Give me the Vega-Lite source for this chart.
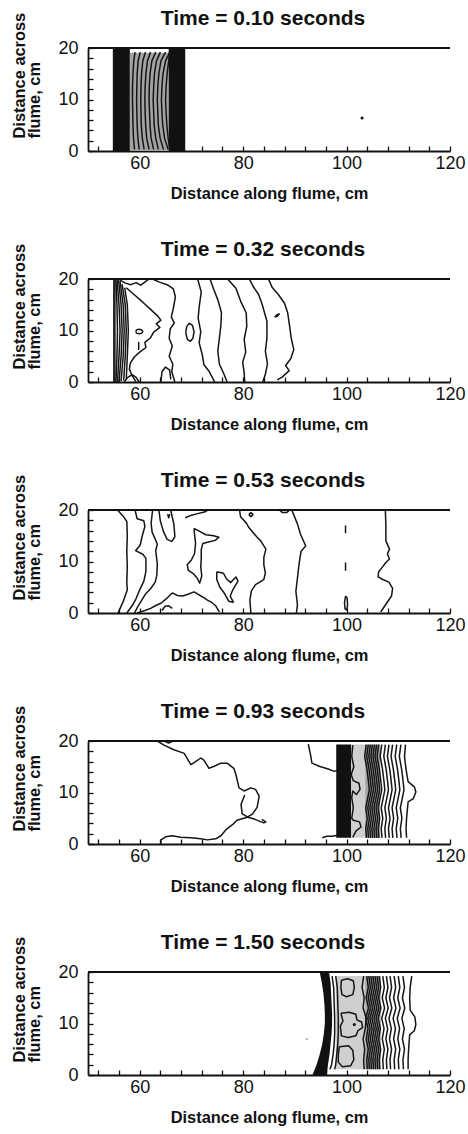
{
  "$schema": "https://vega.github.io/schema/vega-lite/v6.json",
  "padding": {"left": 10, "top": 8, "right": 0, "bottom": 0},
  "config": {
    "view": {"stroke": null},
    "font": "Liberation Sans",
    "title": {"font": "Liberation Sans", "fontSize": 21, "fontWeight": "bold", "color": "#111", "offset": -17, "dx": -6},
    "axis": {"grid": false, "domainColor": "#111", "domainWidth": 1.8, "tickColor": "#111", "tickWidth": 1.3, "tickSize": -5,
      "labelFont": "Liberation Sans", "labelFontSize": 18, "labelColor": "#111",
      "titleFont": "Liberation Sans", "titleFontSize": 16.4, "titleFontWeight": "bold", "titleColor": "#111"},
    "axisX": {"labelPadding": 8, "titlePadding": 13},
    "axisY": {"labelPadding": 15}
  },
  "spacing": 37,
  "datasets": {
    "frame": [{"x": 50, "xe": 120, "y": 20}],
    "fills": [
      {"p": 1, "kind": "band", "x": 54.8, "xe": 58.1, "y": 0, "ye": 20},
      {"p": 1, "kind": "shade", "x": 58.1, "xe": 65.6, "y": 0, "ye": 19.1},
      {"p": 1, "kind": "band", "x": 65.6, "xe": 68.8, "y": 0, "ye": 20},
      {"p": 4, "kind": "band", "x": 98.0, "xe": 100.9, "y": 1.2, "ye": 19.3},
      {"p": 4, "kind": "stipple", "x": 100.9, "xe": 103.6, "y": 1.2, "ye": 19.3},
      {"p": 4, "kind": "shade", "x": 103.6, "xe": 106.5, "y": 1.2, "ye": 19.3},
      {"p": 5, "kind": "stipple", "x": 97.9, "xe": 103.6, "y": 1.1, "ye": 19.2},
      {"p": 5, "kind": "shade", "x": 103.6, "xe": 106.6, "y": 1.1, "ye": 19.2}
    ],
    "fronts": [
      {"p": 5, "y": 20, "x": 94.8, "xe": 96.6},
      {"p": 5, "y": 18, "x": 95.2, "xe": 96.9},
      {"p": 5, "y": 16, "x": 95.5, "xe": 97.0},
      {"p": 5, "y": 14, "x": 95.7, "xe": 97.1},
      {"p": 5, "y": 12, "x": 95.8, "xe": 97.2},
      {"p": 5, "y": 10, "x": 95.8, "xe": 97.2},
      {"p": 5, "y": 8, "x": 95.6, "xe": 97.1},
      {"p": 5, "y": 6, "x": 95.3, "xe": 96.9},
      {"p": 5, "y": 4, "x": 94.8, "xe": 96.7},
      {"p": 5, "y": 2, "x": 94.2, "xe": 96.4},
      {"p": 5, "y": 0, "x": 93.4, "xe": 96.2}
    ],
    "dots": [
      {"p": 1, "kind": "dot", "x": 103.0, "y": 6.4},
      {"p": 5, "kind": "speck", "x": 92.3, "y": 7.0},
      {"p": 5, "kind": "dot", "x": 101.5, "y": 9.8}
    ],
    "contours": [
      {"p": 1, "id": "a1", "xs": [59.1, 58.85, 58.7, 58.6, 58.6, 58.65, 58.7, 58.8, 59.0], "ys": [19.2, 17.5, 15, 12.5, 10, 7.5, 5, 2.5, 0.3]},
      {"p": 1, "id": "a2", "xs": [60.1, 59.7, 59.5, 59.45, 59.4, 59.45, 59.5, 59.65, 59.9], "ys": [19.2, 17.5, 15, 12.5, 10, 7.5, 5, 2.5, 0.3]},
      {"p": 1, "id": "a3", "xs": [61.1, 60.6, 60.35, 60.25, 60.2, 60.25, 60.3, 60.5, 60.85], "ys": [19.2, 17.5, 15, 12.5, 10, 7.5, 5, 2.5, 0.3]},
      {"p": 1, "id": "a4", "xs": [62.1, 61.5, 61.2, 61.05, 61.0, 61.05, 61.15, 61.35, 61.8], "ys": [19.2, 17.5, 15, 12.5, 10, 7.5, 5, 2.5, 0.3]},
      {"p": 1, "id": "a5", "xs": [63.1, 62.35, 62.0, 61.85, 61.8, 61.9, 62.0, 62.2, 62.7], "ys": [19.2, 17.5, 15, 12.5, 10, 7.5, 5, 2.5, 0.3]},
      {"p": 1, "id": "a6", "xs": [64.0, 63.25, 62.85, 62.7, 62.6, 62.7, 62.8, 63.1, 63.6], "ys": [19.2, 17.5, 15, 12.5, 10, 7.5, 5, 2.5, 0.3]},
      {"p": 1, "id": "a7", "xs": [65.0, 64.1, 63.7, 63.5, 63.4, 63.5, 63.6, 63.95, 64.6], "ys": [19.2, 17.5, 15, 12.5, 10, 7.5, 5, 2.5, 0.3]},
      {"p": 1, "id": "a8", "xs": [65.8, 65.0, 64.5, 64.3, 64.2, 64.3, 64.45, 64.8, 65.5], "ys": [19.2, 17.5, 15, 12.5, 10, 7.5, 5, 2.5, 0.3]},
      {"p": 1, "id": "a9", "xs": [65.8, 65.6, 65.3, 65.1, 65.0, 65.1, 65.25, 65.5, 65.8], "ys": [19.2, 17.5, 15, 12.5, 10, 7.5, 5, 2.5, 0.3]},

      {"p": 2, "id": "c1", "xs": [55.0, 55.0], "ys": [0, 20]},
      {"p": 2, "id": "c1b", "xs": [55.2, 55.2], "ys": [0, 20]},
      {"p": 2, "id": "c2", "xs": [55.4, 55.6, 55.7, 55.6, 55.4], "ys": [0, 5, 10, 15, 20]},
      {"p": 2, "id": "c3", "xs": [55.7, 56.0, 56.2, 56.0, 55.6], "ys": [0, 5, 10, 15, 20]},
      {"p": 2, "id": "c4", "xs": [56.0, 56.4, 56.6, 56.4, 55.9], "ys": [0, 5, 10, 15, 20]},
      {"p": 2, "id": "c5", "xs": [56.4, 56.8, 57.0, 56.8, 56.2], "ys": [0.2, 5, 10, 15, 19.6]},
      {"p": 2, "id": "c6", "xs": [56.9, 57.2, 57.4, 57.2, 56.6], "ys": [0.3, 5, 10, 15, 19.0]},
      {"p": 2, "id": "c7", "xs": [57.4, 57.6, 57.8, 57.6, 57.1], "ys": [0.5, 5, 10, 15, 18.3]},
      {"p": 2, "id": "c8", "xs": [57.0, 57.8, 58.6, 59.3, 59.9], "ys": [0, 1.0, 1.4, 0.9, 0]},
      {"p": 2, "id": "l1", "xs": [56.2, 57.2, 58.3, 59.3, 60.2, 61.0, 61.8], "ys": [19.8, 19.2, 18.9, 19.3, 18.8, 19.4, 20]},
      {"p": 2, "id": "l2", "xs": [57.4, 58.9, 60.6, 62.2, 63.5, 64.1, 63.2, 63.9, 62.7, 62.1, 61.0, 61.2, 60.0, 59.0, 58.2, 58.0, 58.5, 59.3], "ys": [18.3, 17.0, 15.5, 14.0, 12.8, 12.0, 11.3, 10.6, 9.7, 8.6, 7.7, 6.7, 5.8, 4.9, 3.7, 2.5, 1.3, 0]},
      {"p": 2, "id": "l3", "xs": [62.5, 63.8, 65.3, 66.5, 66.9, 66.5, 66.1, 66.7, 65.9, 65.7, 66.3, 65.7, 66.4, 66.2, 66.8], "ys": [20, 19.4, 18.9, 18.1, 16.5, 14.3, 12.6, 11.5, 10.3, 8.5, 7.0, 5.0, 3.5, 2.0, 0]},
      {"p": 2, "id": "l4", "xs": [64.1, 64.3, 65.0, 65.8, 66.0], "ys": [0, 2.0, 2.9, 2.3, 0.5]},
      {"p": 2, "id": "e1", "xs": [59.2, 59.45, 59.9, 60.35, 60.6, 60.35, 59.9, 59.45, 59.2], "ys": [9.8, 10.15, 10.25, 10.15, 9.8, 9.45, 9.35, 9.45, 9.8]},
      {"p": 2, "id": "i1", "xs": [59.8, 59.8], "ys": [7.8, 6.2]},
      {"p": 2, "id": "e2", "xs": [68.9, 69.1, 69.6, 70.2, 70.5, 70.3, 69.8, 69.2, 68.9], "ys": [9.6, 10.8, 11.4, 11.0, 9.8, 8.5, 7.9, 8.3, 9.6]},
      {"p": 2, "id": "r1", "xs": [71.2, 71.9, 71.5, 71.3, 71.8, 71.5, 72.1, 72.4, 73.4, 74.5], "ys": [20, 17.5, 14.6, 12.4, 9.8, 7.6, 5.3, 3.4, 2.1, 0]},
      {"p": 2, "id": "r2", "xs": [73.6, 74.3, 75.1, 75.8, 75.7, 75.4, 75.1, 75.4, 76.3, 76.9], "ys": [20, 18, 16, 13.5, 11, 8.5, 6, 3.5, 1.5, 0]},
      {"p": 2, "id": "r3", "xs": [77.0, 78.6, 79.6, 80.6, 80.7, 80.2, 80.5, 79.9, 80.2, 80.3], "ys": [20, 18.2, 15.5, 13.4, 10.8, 8.3, 5.8, 3.8, 1.8, 0]},
      {"p": 2, "id": "r4", "xs": [81.2, 81.9, 83.0, 83.7, 84.6, 84.6, 84.3, 84.7, 84.3, 83.8], "ys": [20, 18.6, 17, 15, 11.8, 8.5, 6, 3.5, 1.5, 0]},
      {"p": 2, "id": "r5", "xs": [84.9, 85.6, 86.8, 88.0, 88.6, 88.9, 89.3, 89.8, 89.2, 88.2, 88.9, 87.6, 86.6], "ys": [20, 18.4, 17, 15.3, 13.5, 11.5, 8.5, 6.3, 4.5, 3.2, 2.2, 1.0, 0.4]},
      {"p": 2, "id": "e3", "xs": [86.1, 86.6, 87.0, 86.5, 86.1], "ys": [12.6, 13.1, 13.2, 12.7, 12.6]},

      {"p": 3, "id": "a", "xs": [55.7, 56.8, 57.5, 57.6, 57.5, 57.6, 57.5, 57.6, 56.8, 55.8], "ys": [20, 18.8, 17.8, 15, 12, 9, 6, 4.5, 2.2, 0]},
      {"p": 3, "id": "b", "xs": [59.1, 59.5, 60.8, 61.0, 60.5, 60.1, 59.2, 60.6, 61.2, 61.2, 60.8, 60.0, 59.3, 58.6, 57.5], "ys": [20, 18.3, 17.9, 16.8, 15, 13.2, 12.1, 11.4, 10.6, 8.1, 6.2, 4.5, 2.8, 1.5, 0]},
      {"p": 3, "id": "c", "xs": [62.5, 62.2, 62.4, 63.4, 63.1, 63.4, 63.3, 63.0, 62.1, 61.2, 60.4, 59.6, 59.0], "ys": [20, 17.4, 15.7, 13.4, 12.1, 9.5, 7.3, 6, 4.7, 3.8, 2.5, 1.2, 0]},
      {"p": 3, "id": "u", "xs": [63.7, 64.0, 64.6, 65.3, 66.2, 66.8, 66.6, 66.3, 66.0], "ys": [20, 17.8, 15.8, 14.3, 13.9, 14.8, 17.3, 18.6, 20]},
      {"p": 3, "id": "v", "xs": [65.4, 65.6, 65.8], "ys": [19.2, 18.5, 19.2]},
      {"p": 3, "id": "t", "xs": [68.8, 70.0, 71.2, 72.5, 73.2], "ys": [18.5, 19.0, 19.3, 19.6, 20]},
      {"p": 3, "id": "bot", "xs": [59.5, 61.0, 62.1, 63.2, 64.1, 65.3, 66.3, 67.3, 68.3, 69.2, 70.5, 71.5, 72.4, 73.1, 74.0, 74.7, 75.4], "ys": [0, 0.5, 0.9, 1.5, 1.9, 2.9, 3.9, 3.4, 3.3, 3.6, 4.1, 3.5, 3.0, 2.5, 2.0, 1.4, 0.2]},
      {"p": 3, "id": "sa", "xs": [64.3, 64.9, 65.6, 66.3], "ys": [0.5, 1.3, 1.4, 0.9]},
      {"p": 3, "id": "f", "xs": [70.5, 71.5, 72.8, 74.3, 75.3, 74.6, 73.3, 72.2, 71.9, 71.9, 71.8, 72.0, 71.6, 71.1, 70.3, 69.4, 69.2, 70.0, 70.6, 70.8, 70.6, 70.5], "ys": [16.4, 15.9, 15.2, 15.0, 14.7, 14.1, 13.8, 13.5, 12.3, 10.5, 9.0, 7.2, 5.8, 6.8, 7.7, 8.3, 9.4, 10.3, 11.5, 13.5, 15.3, 16.4]},
      {"p": 3, "id": "h", "xs": [74.9, 76.2, 76.8, 77.6, 78.6, 79.0, 78.0, 77.5, 78.1, 77.2, 76.4, 75.5, 74.9, 74.9], "ys": [8.0, 7.7, 6.6, 5.9, 7.0, 6.2, 4.5, 3.3, 2.1, 2.3, 3.8, 5.0, 6.5, 8.0]},
      {"p": 3, "id": "g", "xs": [79.3, 79.5, 80.6, 81.1, 82.7, 83.4, 84.4, 84.0, 84.0, 84.3, 84.0, 82.4, 81.6, 81.3, 81.5], "ys": [20, 18.7, 17.5, 16.6, 14.7, 14.0, 12.4, 10.8, 9.4, 7.8, 6.5, 5.5, 4.3, 2.5, 0]},
      {"p": 3, "id": "o", "xs": [81.1, 81.5, 81.9, 81.5, 81.1], "ys": [19.1, 19.5, 19.1, 18.7, 19.1]},
      {"p": 3, "id": "hump", "xs": [87.0, 87.6, 88.4, 89.0], "ys": [20, 19.5, 19.5, 20]},
      {"p": 3, "id": "j", "xs": [89.4, 90.5, 91.1, 91.8, 92.1, 91.2, 90.8, 90.5, 90.2, 90.5, 90.3], "ys": [20, 17.3, 15.3, 13.7, 13.0, 12.0, 9.4, 6.8, 4.2, 1.6, 0]},
      {"p": 3, "id": "i1", "xs": [99.8, 99.8], "ys": [17, 15.5]},
      {"p": 3, "id": "i2", "xs": [99.8, 99.8], "ys": [9.8, 8.2]},
      {"p": 3, "id": "i3", "xs": [99.8, 100.1, 100.2, 100.0, 99.7, 99.6, 99.8], "ys": [3.3, 2.9, 1.5, 0.6, 0.8, 2.0, 3.3]},
      {"p": 3, "id": "k", "xs": [107.5, 107.6, 107.6, 108.3, 107.9, 108.3, 107.6, 107.0, 106.2, 106.1, 107.0, 108.2, 108.9, 108.7, 107.8, 106.6], "ys": [20, 17, 14, 12.4, 11.5, 10.5, 9.8, 9.0, 8.0, 7.0, 6.5, 6.0, 4.8, 3.3, 2.0, 0.2]},

      {"p": 4, "id": "w1", "xs": [63.4, 64.7, 66.6, 68.6, 69.9, 70.8, 71.8, 72.4, 73.4, 74.4, 75.7, 76.9, 78.2, 78.6, 79.2, 80.2, 81.5, 82.4, 83.1, 82.7, 81.8, 80.8, 79.8, 78.8, 78.0, 76.8, 75.7, 74.7, 73.1, 71.8, 69.9, 67.9, 66.3, 65.0, 64.1, 64.1], "ys": [20, 19.2, 18.3, 17.6, 15.4, 16.0, 16.7, 16.3, 14.7, 15.1, 15.7, 15.7, 14.7, 13.5, 10.9, 10.3, 10.9, 10.6, 9.3, 7.1, 5.8, 5.2, 4.9, 4.6, 3.8, 2.9, 1.6, 1.0, 0.8, 1.0, 1.2, 1.3, 1.6, 1.4, 0.8, 0]},
      {"p": 4, "id": "w2", "xs": [80.3, 79.6, 79.8, 80.9, 82.0, 83.0, 84.0, 84.4, 83.6], "ys": [9.5, 7.7, 5.9, 5.2, 4.9, 4.5, 4.1, 4.3, 4.8]},
      {"p": 4, "id": "w3", "xs": [64.8, 65.6, 66.4], "ys": [20, 19.6, 20]},
      {"p": 4, "id": "hk", "xs": [92.6, 93.0, 93.3, 94.7, 96.3, 97.6, 98.2], "ys": [19.4, 17.5, 15.7, 15.1, 14.6, 14.1, 14.3]},
      {"p": 4, "id": "bt", "xs": [95.3, 96.2, 97.2, 98.2], "ys": [1.2, 1.5, 1.5, 1.7]},
      {"p": 4, "id": "gb", "xs": [101.2, 101.0, 101.4, 100.9, 101.3, 102.4, 102.6, 101.9, 101.2, 101.0, 101.3, 101.0, 101.3, 102.5, 102.8, 101.8, 101.2], "ys": [19.2, 17, 15, 13.5, 12.3, 11.8, 10.6, 9.6, 10.3, 9, 7, 5, 4.6, 4.3, 3.3, 2.5, 1.3]},
      {"p": 4, "id": "d1", "xs": [103.8, 103.5, 103.95, 104.25, 104.4, 104.1, 103.7, 104.0, 103.7, 103.85], "ys": [19.3, 17, 14.5, 12, 10.5, 9, 7, 5, 3, 1.2]},
      {"p": 4, "id": "d2", "xs": [104.2, 103.9, 104.35, 104.65, 104.8, 104.5, 104.1, 104.4, 104.1, 104.25], "ys": [19.3, 17, 14.5, 12, 10.5, 9, 7, 5, 3, 1.2]},
      {"p": 4, "id": "d3", "xs": [104.6, 104.3, 104.75, 105.05, 105.2, 104.9, 104.5, 104.8, 104.5, 104.65], "ys": [19.3, 17, 14.5, 12, 10.5, 9, 7, 5, 3, 1.2]},
      {"p": 4, "id": "d4", "xs": [105.0, 104.7, 105.15, 105.45, 105.6, 105.3, 104.9, 105.2, 104.9, 105.05], "ys": [19.3, 17, 14.5, 12, 10.5, 9, 7, 5, 3, 1.2]},
      {"p": 4, "id": "d5", "xs": [105.4, 105.1, 105.55, 105.85, 106.0, 105.7, 105.3, 105.6, 105.3, 105.45], "ys": [19.3, 17, 14.5, 12, 10.5, 9, 7, 5, 3, 1.2]},
      {"p": 4, "id": "d6", "xs": [105.8, 105.5, 105.95, 106.25, 106.4, 106.1, 105.7, 106.0, 105.7, 105.85], "ys": [19.3, 17, 14.5, 12, 10.5, 9, 7, 5, 3, 1.2]},
      {"p": 4, "id": "d7", "xs": [106.2, 105.9, 106.35, 106.65, 106.8, 106.5, 106.1, 106.4, 106.1, 106.25], "ys": [19.3, 17, 14.5, 12, 10.5, 9, 7, 5, 3, 1.2]},
      {"p": 4, "id": "s1", "xs": [106.8, 106.5, 106.95, 107.25, 107.4, 107.1, 106.7, 107.0, 106.7, 106.85], "ys": [19.3, 17, 14.5, 12, 10.5, 9, 7, 5, 3, 1.2]},
      {"p": 4, "id": "s2", "xs": [107.5, 107.2, 107.65, 107.95, 108.1, 107.8, 107.4, 107.7, 107.4, 107.55], "ys": [19.3, 17, 14.5, 12, 10.5, 9, 7, 5, 3, 1.2]},
      {"p": 4, "id": "s3", "xs": [108.2, 107.9, 108.35, 108.65, 108.8, 108.5, 108.1, 108.4, 108.1, 108.25], "ys": [19.3, 17, 14.5, 12, 10.5, 9, 7, 5, 3, 1.2]},
      {"p": 4, "id": "s4", "xs": [108.9, 108.6, 109.05, 109.35, 109.5, 109.2, 108.8, 109.1, 108.8, 108.95], "ys": [19.3, 17, 14.5, 12, 10.5, 9, 7, 5, 3, 1.2]},
      {"p": 4, "id": "s5", "xs": [109.7, 109.4, 109.85, 110.15, 110.3, 110.0, 109.6, 109.9, 109.6, 109.75], "ys": [19.3, 17, 14.5, 12, 10.5, 9, 7, 5, 3, 1.2]},
      {"p": 4, "id": "s6", "xs": [110.5, 110.2, 110.65, 110.95, 111.1, 110.8, 110.4, 110.7, 110.4, 110.55], "ys": [19.3, 17, 14.5, 12, 10.5, 9, 7, 5, 3, 1.2]},
      {"p": 4, "id": "s7", "xs": [111.4, 111.2, 111.5, 111.9, 113.1, 113.4, 112.9, 111.9, 111.6, 111.5, 111.6], "ys": [19.3, 17, 14.5, 12.1, 11.1, 10.1, 8.8, 8.2, 5, 3, 1.2]},

      {"p": 5, "id": "n1", "xs": [97.2, 97.5, 97.6, 97.7, 97.7, 97.6, 97.4, 97.1, 96.8], "ys": [19.2, 17, 14, 11, 8, 6, 4, 2, 1.1]},
      {"p": 5, "id": "n2", "xs": [97.9, 98.2, 98.3, 98.4, 98.4, 98.3, 98.1, 97.9, 97.7], "ys": [19.2, 17, 14, 11, 8, 6, 4, 2, 1.1]},
      {"p": 5, "id": "b1", "xs": [99.0, 100.2, 101.3, 101.5, 101.2, 100.0, 99.1, 98.9, 99.0], "ys": [18.4, 18.7, 18.3, 17.0, 15.6, 15.2, 15.6, 17.0, 18.4]},
      {"p": 5, "id": "b2", "xs": [98.9, 100.5, 101.8, 102.0, 102.9, 103.1, 102.2, 101.8, 100.3, 99.0, 98.8, 99.3, 98.9], "ys": [12.0, 12.2, 11.8, 10.7, 10.3, 9.2, 8.6, 7.6, 7.3, 7.6, 9.5, 10.5, 12.0]},
      {"p": 5, "id": "b3", "xs": [98.6, 100.4, 101.2, 101.4, 100.8, 99.2, 98.4, 98.4, 98.6], "ys": [5.5, 5.7, 4.8, 3.0, 1.8, 1.6, 2.5, 4.0, 5.5]},
      {"p": 5, "id": "rb", "xs": [103.3, 103.0, 103.4, 103.2, 103.8, 103.6, 103.2, 103.5, 103.3, 103.4], "ys": [19.2, 17, 15, 13, 11, 9, 7, 5, 3, 1.1]},
      {"p": 5, "id": "d1", "xs": [103.9, 104.2, 103.8, 104.25, 103.7, 104.15, 103.8, 104.2, 103.9, 104.0], "ys": [19.2, 17, 15, 13, 11, 9, 7, 5, 3, 1.1]},
      {"p": 5, "id": "d2", "xs": [104.3, 104.6, 104.2, 104.65, 104.1, 104.55, 104.2, 104.6, 104.3, 104.4], "ys": [19.2, 17, 15, 13, 11, 9, 7, 5, 3, 1.1]},
      {"p": 5, "id": "d3", "xs": [104.7, 105.0, 104.6, 105.05, 104.5, 104.95, 104.6, 105.0, 104.7, 104.8], "ys": [19.2, 17, 15, 13, 11, 9, 7, 5, 3, 1.1]},
      {"p": 5, "id": "d4", "xs": [105.1, 105.4, 105.0, 105.45, 104.9, 105.35, 105.0, 105.4, 105.1, 105.2], "ys": [19.2, 17, 15, 13, 11, 9, 7, 5, 3, 1.1]},
      {"p": 5, "id": "d5", "xs": [105.5, 105.8, 105.4, 105.85, 105.3, 105.75, 105.4, 105.8, 105.5, 105.6], "ys": [19.2, 17, 15, 13, 11, 9, 7, 5, 3, 1.1]},
      {"p": 5, "id": "d6", "xs": [105.9, 106.2, 105.8, 106.25, 105.7, 106.15, 105.8, 106.2, 105.9, 106.0], "ys": [19.2, 17, 15, 13, 11, 9, 7, 5, 3, 1.1]},
      {"p": 5, "id": "d7", "xs": [106.3, 106.6, 106.2, 106.65, 106.1, 106.55, 106.2, 106.6, 106.3, 106.4], "ys": [19.2, 17, 15, 13, 11, 9, 7, 5, 3, 1.1]},
      {"p": 5, "id": "s1", "xs": [107.0, 107.3, 106.9, 107.35, 106.8, 107.25, 106.9, 107.3, 107.0, 107.1], "ys": [19.2, 17, 15, 13, 11, 9, 7, 5, 3, 1.1]},
      {"p": 5, "id": "s2", "xs": [107.7, 108.0, 107.6, 108.05, 107.5, 107.95, 107.6, 108.0, 107.7, 107.8], "ys": [19.2, 17, 15, 13, 11, 9, 7, 5, 3, 1.1]},
      {"p": 5, "id": "s3", "xs": [108.4, 108.7, 108.3, 108.75, 108.2, 108.65, 108.3, 108.7, 108.4, 108.5], "ys": [19.2, 17, 15, 13, 11, 9, 7, 5, 3, 1.1]},
      {"p": 5, "id": "s4", "xs": [109.2, 109.5, 109.1, 109.55, 109.0, 109.45, 109.1, 109.5, 109.2, 109.3], "ys": [19.2, 17, 15, 13, 11, 9, 7, 5, 3, 1.1]},
      {"p": 5, "id": "s5", "xs": [110.0, 110.3, 109.9, 110.35, 109.8, 110.25, 109.9, 110.3, 110.0, 110.1], "ys": [19.2, 17, 15, 13, 11, 9, 7, 5, 3, 1.1]},
      {"p": 5, "id": "s6", "xs": [110.9, 111.2, 110.8, 111.25, 110.7, 111.15, 110.8, 111.2, 110.9, 111.0], "ys": [19.2, 17, 15, 13, 11, 9, 7, 5, 3, 1.1]},
      {"p": 5, "id": "s7", "xs": [112.6, 112.3, 112.2, 112.3, 113.2, 113.4, 113.1, 112.2, 112.0, 111.9, 111.9], "ys": [19.2, 17, 15, 12.6, 11.3, 9.8, 8.6, 7.8, 5, 3, 1.1]}
    ]
  },
  "vconcat": [
    {
      "title": {"text": "Time = 0.10 seconds"},
      "width": 362, "height": 103,
      "encoding": {
        "x": {"field": "x", "type": "quantitative", "scale": {"domain": [50, 120], "nice": false},
          "axis": {"title": "Distance along flume, cm", "values": [52, 56, 60, 64, 68, 72, 76, 80, 84, 88, 92, 96, 100, 104, 108, 112, 116, 120], "labelExpr": "datum.value % 20 == 0 ? datum.label : ''", "labelOverlap": false, "labelFlush": false}},
        "y": {"field": "y", "type": "quantitative", "scale": {"domain": [0, 20], "nice": false},
          "axis": {"title": ["Distance across", "flume, cm"], "values": [0, 2, 4, 6, 8, 10, 12, 14, 16, 18, 20], "labelExpr": "datum.value % 10 == 0 ? datum.label : ''", "labelOverlap": false, "labelFlush": false, "titleX": -64, "titleY": 90, "titleAngle": 270, "titleAlign": "left", "titleBaseline": "alphabetic", "titleLineHeight": 15}}
      },
      "layer": [
        {"data": {"name": "fills"}, "transform": [{"filter": "datum.p == 1"}], "mark": {"type": "rect", "clip": true},
         "encoding": {"x2": {"field": "xe"}, "y2": {"field": "ye"},
           "color": {"field": "kind", "type": "nominal", "scale": {"domain": ["band", "shade", "stipple"], "range": ["#111111", "#a3a3a3", "#cfcfcf"]}, "legend": null}}},
        {"data": {"name": "contours"}, "transform": [{"filter": "datum.p == 1"}, {"flatten": ["xs", "ys"], "as": ["x", "y"]}],
         "mark": {"type": "line", "clip": true, "color": "#151515", "strokeWidth": 1.5, "strokeJoin": "round"},
         "encoding": {"detail": {"field": "id"}, "order": {"value": null}}},
        {"data": {"name": "dots"}, "transform": [{"filter": "datum.p == 1"}], "mark": {"type": "point", "filled": true, "opacity": 1},
         "encoding": {
           "color": {"field": "kind", "type": "nominal", "scale": {"domain": ["dot", "speck"], "range": ["#111111", "#999999"]}, "legend": null},
           "size": {"field": "kind", "type": "nominal", "scale": {"domain": ["dot", "speck"], "range": [10, 4]}, "legend": null}}},
        {"data": {"name": "frame"}, "mark": {"type": "rule", "color": "#111", "strokeWidth": 2}, "encoding": {"x2": {"field": "xe"}}}
      ]
    },
    {
      "title": {"text": "Time = 0.32 seconds"},
      "width": 362, "height": 103,
      "encoding": {
        "x": {"field": "x", "type": "quantitative", "scale": {"domain": [50, 120], "nice": false},
          "axis": {"title": "Distance along flume, cm", "values": [52, 56, 60, 64, 68, 72, 76, 80, 84, 88, 92, 96, 100, 104, 108, 112, 116, 120], "labelExpr": "datum.value % 20 == 0 ? datum.label : ''", "labelOverlap": false, "labelFlush": false}},
        "y": {"field": "y", "type": "quantitative", "scale": {"domain": [0, 20], "nice": false},
          "axis": {"title": ["Distance across", "flume, cm"], "values": [0, 2, 4, 6, 8, 10, 12, 14, 16, 18, 20], "labelExpr": "datum.value % 10 == 0 ? datum.label : ''", "labelOverlap": false, "labelFlush": false, "titleX": -64, "titleY": 90, "titleAngle": 270, "titleAlign": "left", "titleBaseline": "alphabetic", "titleLineHeight": 15}}
      },
      "layer": [
        {"data": {"name": "contours"}, "transform": [{"filter": "datum.p == 2"}, {"flatten": ["xs", "ys"], "as": ["x", "y"]}],
         "mark": {"type": "line", "clip": true, "color": "#151515", "strokeWidth": 1.5, "strokeJoin": "round"},
         "encoding": {"detail": {"field": "id"}, "order": {"value": null}}},
        {"data": {"name": "frame"}, "mark": {"type": "rule", "color": "#111", "strokeWidth": 2}, "encoding": {"x2": {"field": "xe"}}}
      ]
    },
    {
      "title": {"text": "Time = 0.53 seconds"},
      "width": 362, "height": 103,
      "encoding": {
        "x": {"field": "x", "type": "quantitative", "scale": {"domain": [50, 120], "nice": false},
          "axis": {"title": "Distance along flume, cm", "values": [52, 56, 60, 64, 68, 72, 76, 80, 84, 88, 92, 96, 100, 104, 108, 112, 116, 120], "labelExpr": "datum.value % 20 == 0 ? datum.label : ''", "labelOverlap": false, "labelFlush": false}},
        "y": {"field": "y", "type": "quantitative", "scale": {"domain": [0, 20], "nice": false},
          "axis": {"title": ["Distance across", "flume, cm"], "values": [0, 2, 4, 6, 8, 10, 12, 14, 16, 18, 20], "labelExpr": "datum.value % 10 == 0 ? datum.label : ''", "labelOverlap": false, "labelFlush": false, "titleX": -64, "titleY": 90, "titleAngle": 270, "titleAlign": "left", "titleBaseline": "alphabetic", "titleLineHeight": 15}}
      },
      "layer": [
        {"data": {"name": "contours"}, "transform": [{"filter": "datum.p == 3"}, {"flatten": ["xs", "ys"], "as": ["x", "y"]}],
         "mark": {"type": "line", "clip": true, "color": "#151515", "strokeWidth": 1.5, "strokeJoin": "round"},
         "encoding": {"detail": {"field": "id"}, "order": {"value": null}}},
        {"data": {"name": "frame"}, "mark": {"type": "rule", "color": "#111", "strokeWidth": 2}, "encoding": {"x2": {"field": "xe"}}}
      ]
    },
    {
      "title": {"text": "Time = 0.93 seconds"},
      "width": 362, "height": 103,
      "encoding": {
        "x": {"field": "x", "type": "quantitative", "scale": {"domain": [50, 120], "nice": false},
          "axis": {"title": "Distance along flume, cm", "values": [52, 56, 60, 64, 68, 72, 76, 80, 84, 88, 92, 96, 100, 104, 108, 112, 116, 120], "labelExpr": "datum.value % 20 == 0 ? datum.label : ''", "labelOverlap": false, "labelFlush": false}},
        "y": {"field": "y", "type": "quantitative", "scale": {"domain": [0, 20], "nice": false},
          "axis": {"title": ["Distance across", "flume, cm"], "values": [0, 2, 4, 6, 8, 10, 12, 14, 16, 18, 20], "labelExpr": "datum.value % 10 == 0 ? datum.label : ''", "labelOverlap": false, "labelFlush": false, "titleX": -64, "titleY": 90, "titleAngle": 270, "titleAlign": "left", "titleBaseline": "alphabetic", "titleLineHeight": 15}}
      },
      "layer": [
        {"data": {"name": "fills"}, "transform": [{"filter": "datum.p == 4"}], "mark": {"type": "rect", "clip": true},
         "encoding": {"x2": {"field": "xe"}, "y2": {"field": "ye"},
           "color": {"field": "kind", "type": "nominal", "scale": {"domain": ["band", "shade", "stipple"], "range": ["#111111", "#a3a3a3", "#cfcfcf"]}, "legend": null}}},
        {"data": {"name": "contours"}, "transform": [{"filter": "datum.p == 4"}, {"flatten": ["xs", "ys"], "as": ["x", "y"]}],
         "mark": {"type": "line", "clip": true, "color": "#151515", "strokeWidth": 1.5, "strokeJoin": "round"},
         "encoding": {"detail": {"field": "id"}, "order": {"value": null}}},
        {"data": {"name": "frame"}, "mark": {"type": "rule", "color": "#111", "strokeWidth": 2}, "encoding": {"x2": {"field": "xe"}}}
      ]
    },
    {
      "title": {"text": "Time = 1.50 seconds"},
      "width": 362, "height": 103,
      "encoding": {
        "x": {"field": "x", "type": "quantitative", "scale": {"domain": [50, 120], "nice": false},
          "axis": {"title": "Distance along flume, cm", "values": [52, 56, 60, 64, 68, 72, 76, 80, 84, 88, 92, 96, 100, 104, 108, 112, 116, 120], "labelExpr": "datum.value % 20 == 0 ? datum.label : ''", "labelOverlap": false, "labelFlush": false}},
        "y": {"field": "y", "type": "quantitative", "scale": {"domain": [0, 20], "nice": false},
          "axis": {"title": ["Distance across", "flume, cm"], "values": [0, 2, 4, 6, 8, 10, 12, 14, 16, 18, 20], "labelExpr": "datum.value % 10 == 0 ? datum.label : ''", "labelOverlap": false, "labelFlush": false, "titleX": -64, "titleY": 90, "titleAngle": 270, "titleAlign": "left", "titleBaseline": "alphabetic", "titleLineHeight": 15}}
      },
      "layer": [
        {"data": {"name": "fills"}, "transform": [{"filter": "datum.p == 5"}], "mark": {"type": "rect", "clip": true},
         "encoding": {"x2": {"field": "xe"}, "y2": {"field": "ye"},
           "color": {"field": "kind", "type": "nominal", "scale": {"domain": ["band", "shade", "stipple"], "range": ["#111111", "#a3a3a3", "#cfcfcf"]}, "legend": null}}},
        {"data": {"name": "fronts"}, "transform": [{"filter": "datum.p == 5"}], "mark": {"type": "area", "orient": "horizontal", "color": "#111", "clip": true},
         "encoding": {"x2": {"field": "xe"}}},
        {"data": {"name": "contours"}, "transform": [{"filter": "datum.p == 5"}, {"flatten": ["xs", "ys"], "as": ["x", "y"]}],
         "mark": {"type": "line", "clip": true, "color": "#151515", "strokeWidth": 1.5, "strokeJoin": "round"},
         "encoding": {"detail": {"field": "id"}, "order": {"value": null}}},
        {"data": {"name": "dots"}, "transform": [{"filter": "datum.p == 5"}], "mark": {"type": "point", "filled": true, "opacity": 1},
         "encoding": {
           "color": {"field": "kind", "type": "nominal", "scale": {"domain": ["dot", "speck"], "range": ["#111111", "#999999"]}, "legend": null},
           "size": {"field": "kind", "type": "nominal", "scale": {"domain": ["dot", "speck"], "range": [10, 4]}, "legend": null}}},
        {"data": {"name": "frame"}, "mark": {"type": "rule", "color": "#111", "strokeWidth": 2}, "encoding": {"x2": {"field": "xe"}}}
      ]
    }
  ]
}
